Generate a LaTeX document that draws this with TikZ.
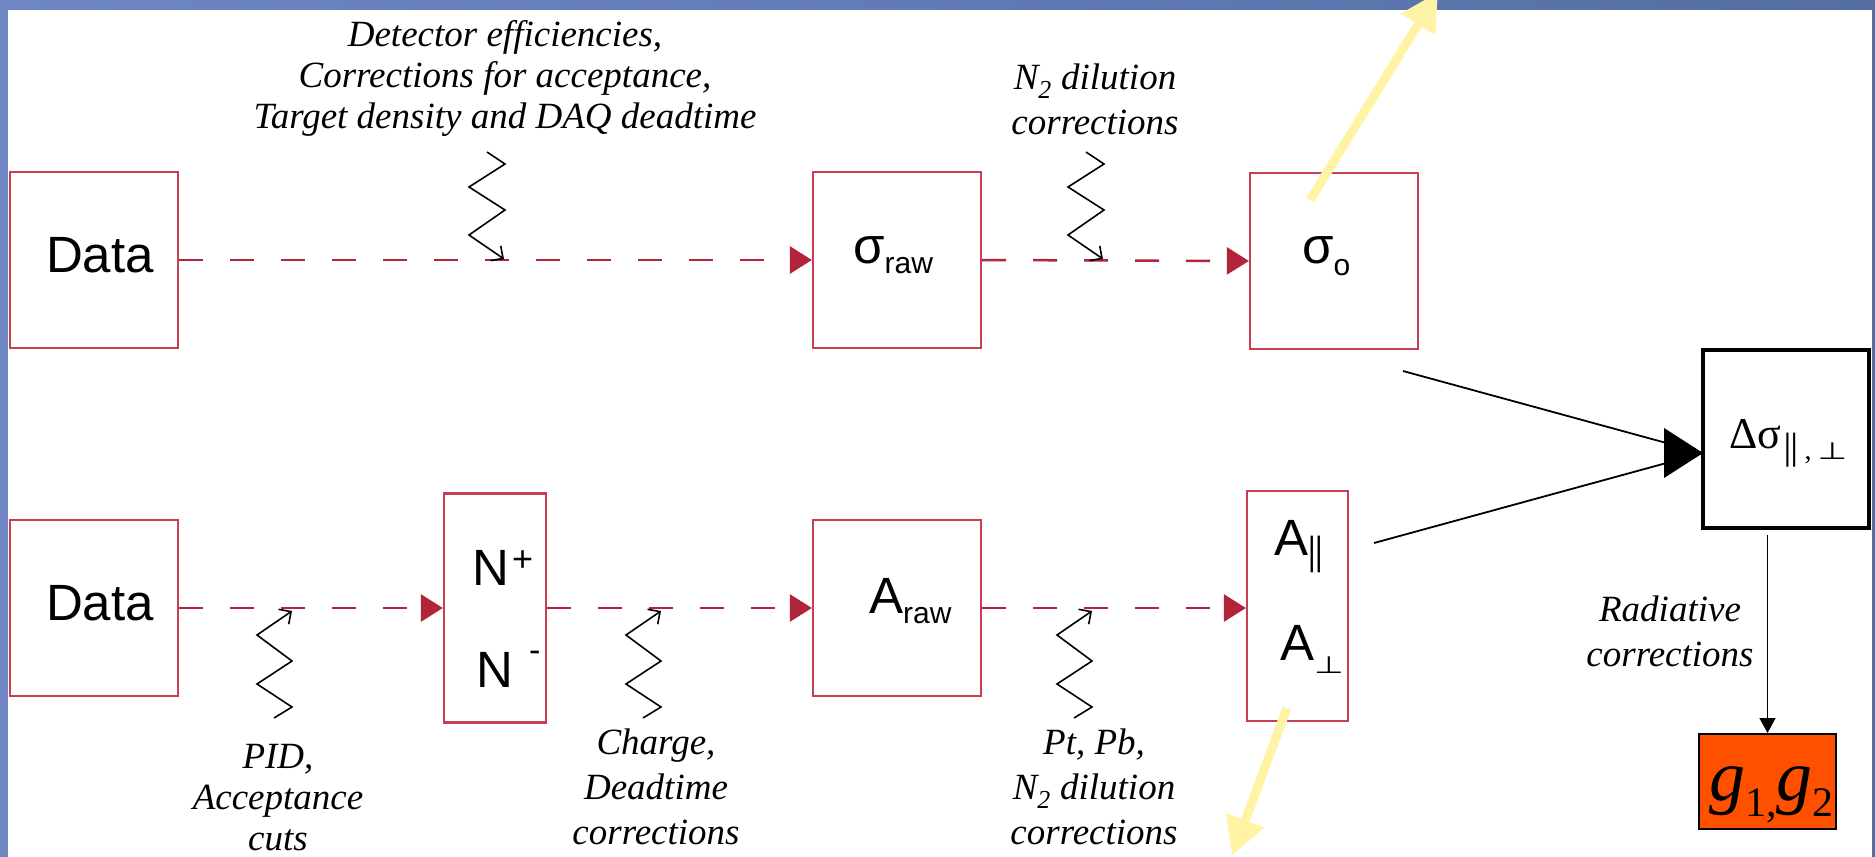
\documentclass[tikz,border=0pt]{standalone}
\usepackage{fontspec}
\usepackage{graphicx}
\setmainfont{Liberation Serif}
\newfontfamily\sansf{Liberation Sans}
\newfontfamily\symf{DejaVu Sans}
\usetikzlibrary{arrows.meta}

\definecolor{boxred}{RGB}{200,62,82}
\definecolor{linered}{RGB}{178,36,58}
\definecolor{hiyellow}{RGB}{255,244,165}
\definecolor{gorange}{RGB}{255,80,0}
\definecolor{frameleft}{RGB}{110,135,195}
\definecolor{framemid}{RGB}{158,182,240}
\definecolor{frameright}{RGB}{84,110,165}

% fonts for box labels and their sub/superscripts
\newcommand\lblfont{\sansf\fontsize{51}{51}\selectfont}
\newcommand\lblsub[1]{{\sansf\fontsize{30}{30}\selectfont #1}}
\newcommand\perpsym[1]{{\symf\fontsize{#1}{#1}\selectfont\scalebox{1}[0.7]{⊥}}}
\newcommand\parsym[2]{{\sansf\fontsize{#1}{#1}\selectfont\scalebox{1}[#2]{||}}}

\tikzset{
  redbox/.style={draw=boxred, line width=2.2pt, fill=white, inner sep=0pt},
  flow/.style={draw=linered, line width=2.5pt, dash pattern=on 24pt off 27pt,
    -{Triangle[length=22pt,width=27pt]}},
  zig/.style={draw=black, line width=1.6pt, -{Straight Barb[length=9pt,width=18pt]}},
  joinline/.style={draw=black, line width=1.8pt},
  radarrow/.style={draw=black, line width=1.6pt, -{Triangle[length=15pt,width=16pt]}},
  hiarrow/.style={draw=hiyellow, line width=9pt, -{Triangle[length=38pt,width=38pt]}},
  boxlabel/.style={inner sep=0pt, font=\lblfont},
  note/.style={inner sep=0pt, align=center, anchor=north},
  note41/.style={note, font={\fontsize{37}{41}\selectfont\itshape}},
  note45/.style={note, font={\fontsize{37}{45}\selectfont\itshape}},
}

\begin{document}
\begin{tikzpicture}[x=1pt,y=-1pt]
\useasboundingbox (0,0) rectangle (1875,857);

% slide frame and white page
\shade[left color=frameleft, middle color=framemid, right color=frameright]
  (0,0) rectangle (1875,857);
\fill[white] (8,10) rectangle (1872,857);

% ---------- upper chain: cross sections ----------
\node[redbox, minimum width=168pt, minimum height=176pt] (data1) at (94,260) {};
\node[redbox, minimum width=168pt, minimum height=176pt] (sraw) at (897,260) {};
\node[redbox, minimum width=168pt, minimum height=176pt] (so) at (1334,261) {};

\node[boxlabel, anchor=base] (data1lab) at (100,272) {Data};
\node[boxlabel, anchor=base west] (srawlab) at (853,263) {σ\raisebox{-10pt}{\lblsub{raw}}};
\node[boxlabel, anchor=base west] (solab) at (1302,263) {σ\raisebox{-12pt}{\lblsub{o}}};

\draw[flow] (data1.east) -- (sraw.west);
\draw[flow] (sraw.east) -- (so.west);

% ---------- lower chain: asymmetries ----------
\node[redbox, minimum width=168pt, minimum height=176pt] (data2) at (94,608) {};
\node[redbox, minimum width=102pt, minimum height=229pt] (npm) at (495,608) {};
\node[redbox, minimum width=168pt, minimum height=176pt] (araw) at (897,608) {};
\node[redbox, minimum width=101pt, minimum height=230pt] (apar) at (1297.5,606) {};

\node[boxlabel, anchor=base] (data2lab) at (100,620) {Data};
\node[boxlabel, anchor=base west] (nplab) at (472,585)
  {N\hspace{3pt}\raisebox{14pt}{{\sansf\fontsize{36}{36}\selectfont +}}};
\node[boxlabel, anchor=base west] (nmlab) at (476,687)
  {N\hspace{16pt}\raisebox{26pt}{{\sansf\fontsize{34}{34}\selectfont -}}};
\node[boxlabel, anchor=base west] (arawlab) at (869,613) {A\raisebox{-10pt}{\lblsub{raw}}};
\node[boxlabel, anchor=base west] (aparlab) at (1274,555)
  {A\raisebox{-9pt}{\parsym{29}{1.35}}};
\node[boxlabel, anchor=base west] (aperplab) at (1280,660)
  {A\raisebox{-13pt}{\perpsym{34}}};

\draw[flow] (data2.east) -- (data2.east -| npm.west);
\draw[flow] (npm.east |- araw.west) -- (araw.west);
\draw[flow] (araw.east) -- (araw.east -| apar.west);

% ---------- correction zigzags ----------
\coordinate (zdet) at (504,259);
\coordinate (zdil) at (1103,259);
\coordinate (zpid) at (292,611);
\coordinate (zchg) at (661,611);
\coordinate (zptb) at (1092,611);

\draw[zig] (zdet) ++(-17,-107) -- ++(18,12) -- ++(-36,23) -- ++(36,23) -- ++(-36,25) -- (zdet);
\draw[zig] (zdil) ++(-17,-107) -- ++(18,12) -- ++(-36,23) -- ++(36,23) -- ++(-36,25) -- (zdil);
\draw[zig] (zpid) ++(-18,107) -- ++(18,-11) -- ++(-35,-23) -- ++(35,-23) -- ++(-35,-26) -- (zpid);
\draw[zig] (zchg) ++(-18,107) -- ++(18,-11) -- ++(-35,-23) -- ++(35,-23) -- ++(-35,-26) -- (zchg);
\draw[zig] (zptb) ++(-18,107) -- ++(18,-11) -- ++(-35,-23) -- ++(35,-23) -- ++(-35,-26) -- (zptb);

\node[note41] (ndet) at (505,20)
  {Detector efficiencies,\\Corrections for acceptance,\\Target density and DAQ deadtime};
\node[note45] (ndil) at (1095,64) {N\textsubscript{2} dilution\\corrections};
\node[note41] (npid) at (278,744) {PID,\\Acceptance\\cuts};
\node[note45] (nchg) at (656,729) {Charge,\\Deadtime\\corrections};
\node[note45] (nptb) at (1094,729) {Pt, Pb,\\N\textsubscript{2} dilution\\corrections};

% ---------- combination into the polarized cross sections ----------
\node[draw=black, line width=3.3pt, fill=white, inner sep=0pt,
      minimum width=166pt, minimum height=178pt] (dsig) at (1786,439) {};
\node[inner sep=0pt, anchor=base west] (dsiglab) at (1729,448)
  {\fontsize{44}{44}\selectfont Δσ\raisebox{-11pt}{\fontsize{28}{28}\selectfont
   \hspace{3pt}\parsym{26}{1.4}\hspace{7pt},\hspace{6pt}\perpsym{34}}};

\coordinate (soout) at (1403,371);
\coordinate (aout) at (1374,543);
\coordinate (dsigin) at (1703,453);
\draw[joinline] (soout) -- (dsigin);
\draw[joinline] (aout) -- (dsigin);
\fill[black] (dsigin) -- ++(-39,-25) -- ++(0,50) -- cycle;

% ---------- radiative corrections to g1, g2 ----------
\node[draw=black, fill=gorange, line width=2pt, inner sep=0pt,
      minimum width=137pt, minimum height=95pt] (g) at (1767.5,781.5) {};
\node[inner sep=0pt, anchor=base west] (glab) at (1709,800)
  {\fontsize{72}{72}\selectfont\itshape g\raisebox{-16pt}{\upshape\fontsize{42}{42}\selectfont 1,}g\raisebox{-16pt}{\upshape\fontsize{42}{42}\selectfont 2}};

\coordinate (radtop) at (1767.5,535);
\draw[radarrow] (radtop) -- (g.north);
\node[note45] (nrad) at (1670,596) {Radiative\\corrections};

% ---------- highlight arrows ----------
\coordinate (hiup0) at (1310,200);
\coordinate (hiup1) at (1438,-8);
\coordinate (hidn0) at (1287,708);
\coordinate (hidn1) at (1232,856);
\draw[hiarrow] (hiup0) -- (hiup1);
\draw[hiarrow] (hidn0) -- (hidn1);
\end{tikzpicture}
\end{document}
